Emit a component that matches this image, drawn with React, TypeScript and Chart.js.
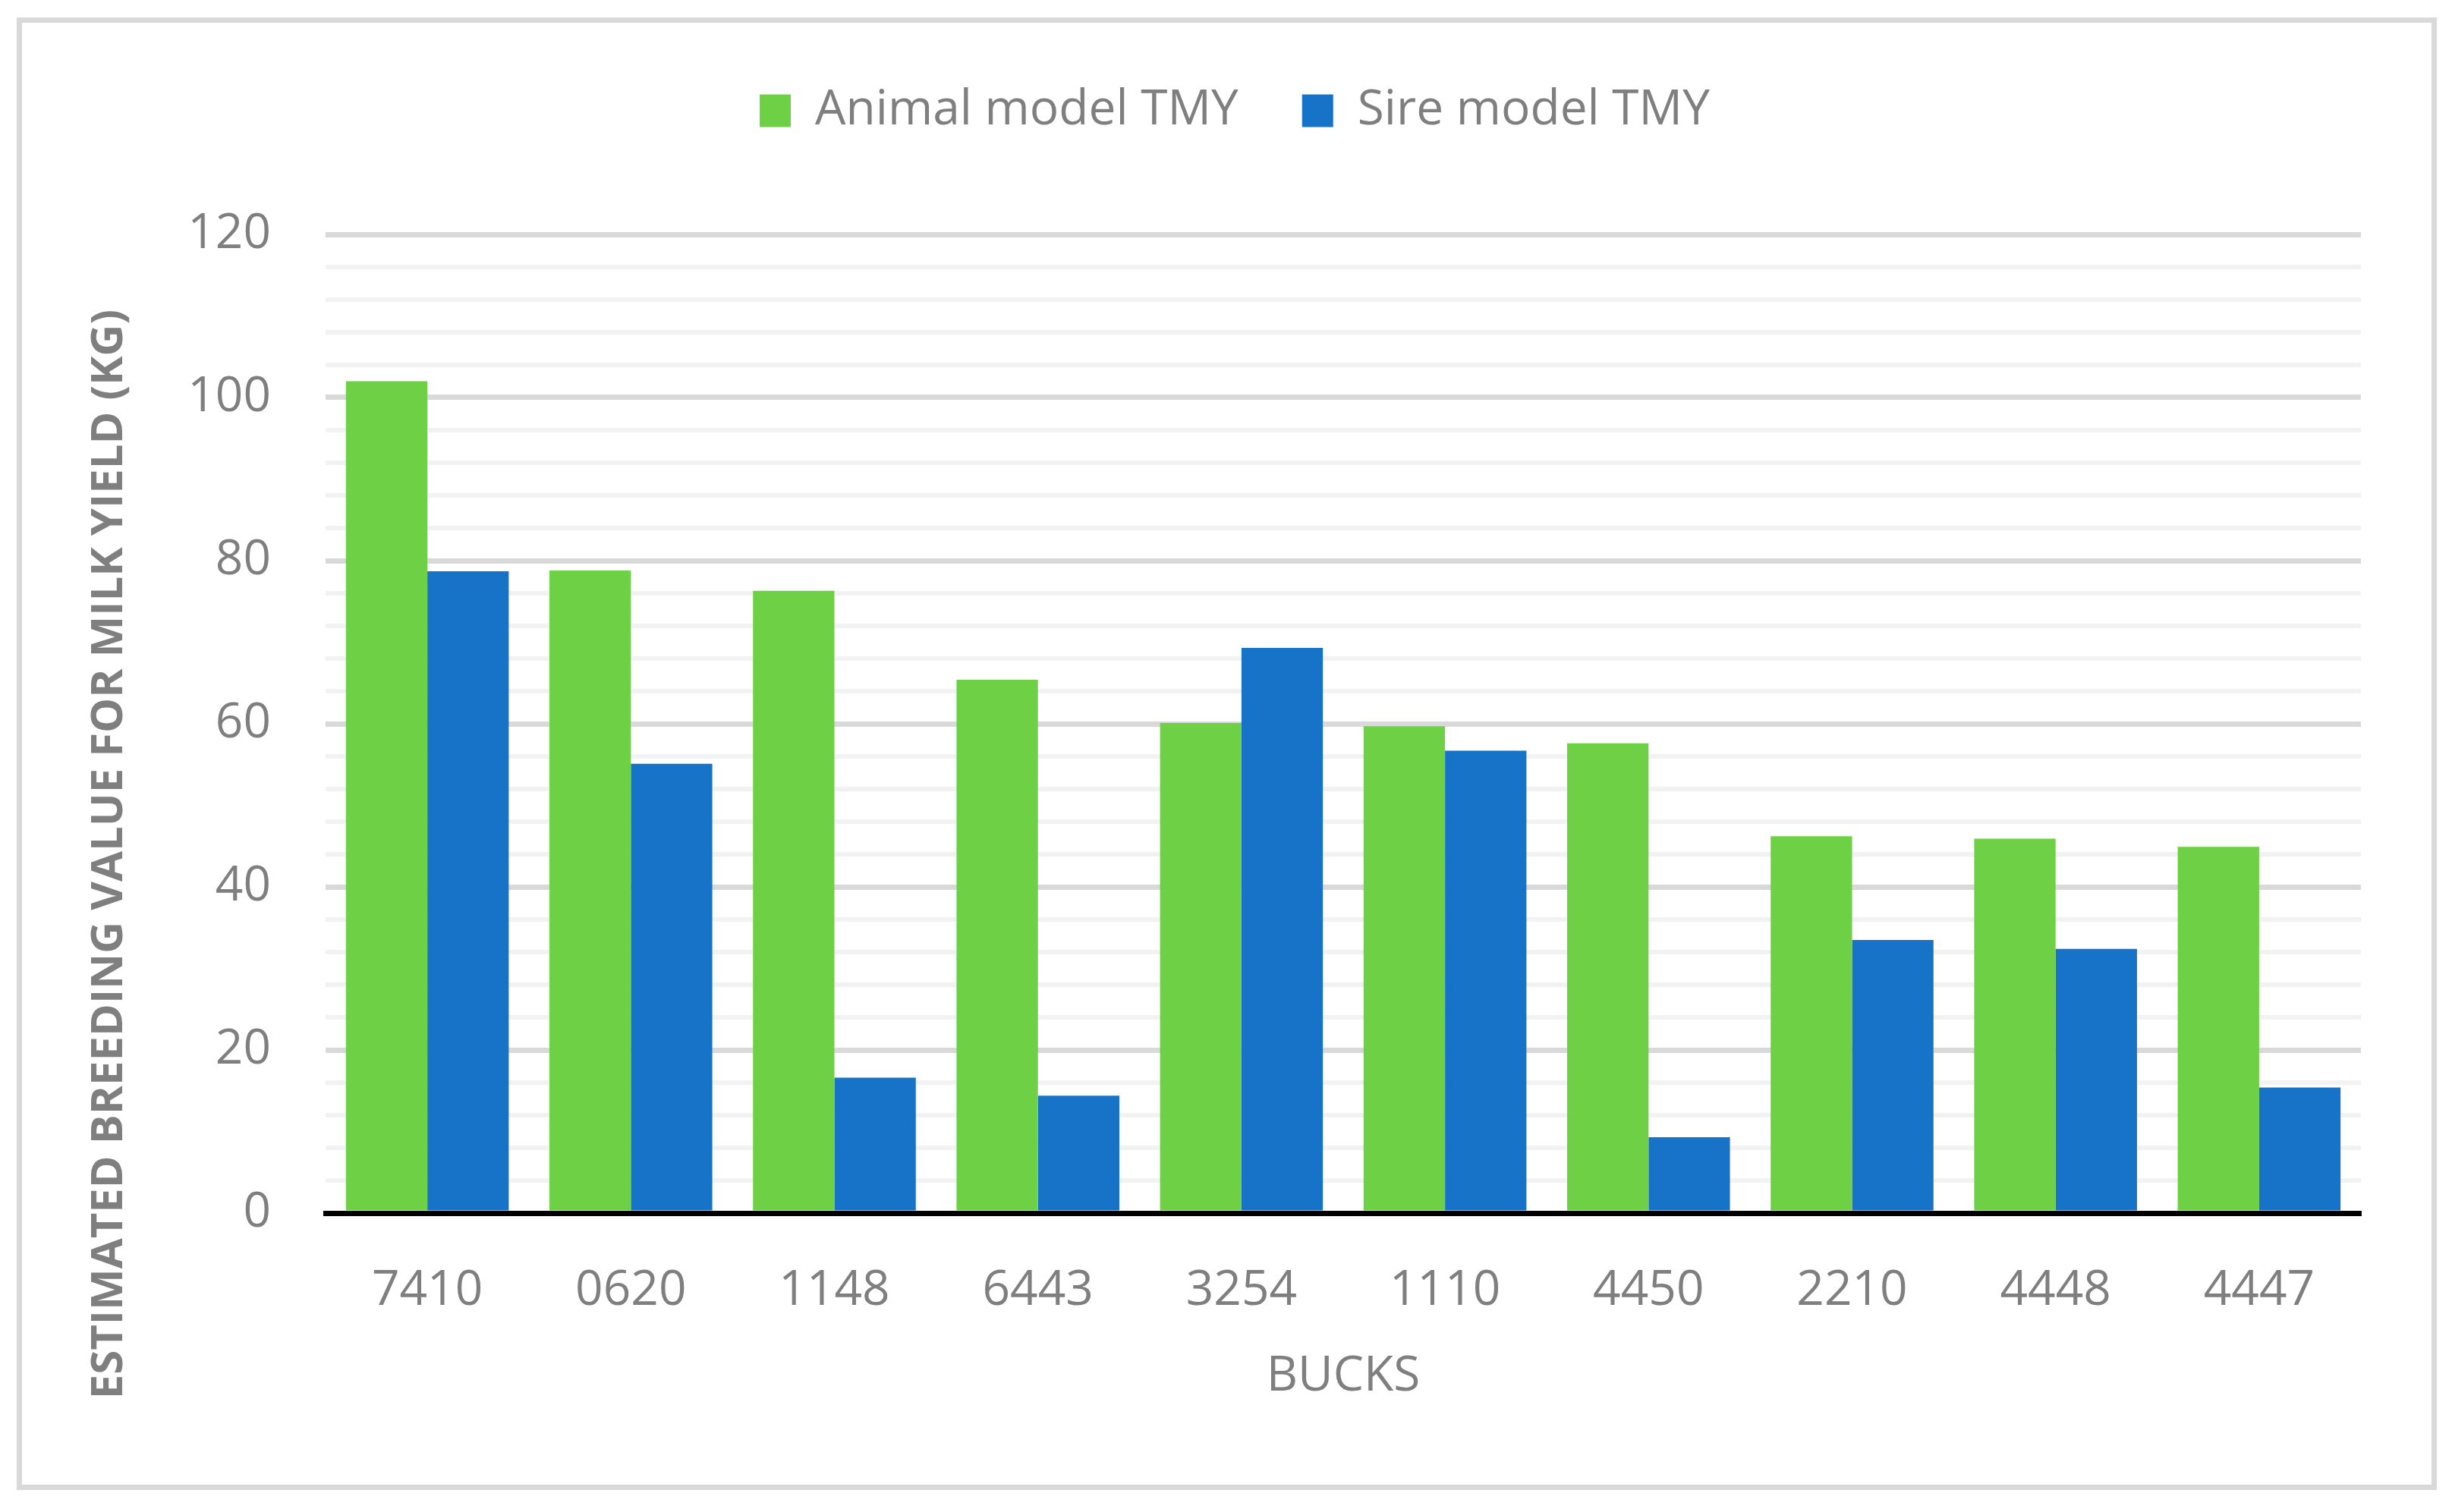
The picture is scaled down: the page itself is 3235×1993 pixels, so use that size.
import { useEffect, useRef } from 'react';
import { Chart, registerables } from 'chart.js';

Chart.register(...registerables);

const FONT = "'Open Sans', 'Noto Sans', sans-serif";
const GREY = '#7f7f7f';

const bucks = ['7410', '0620', '1148', '6443', '3254', '1110', '4450', '2210', '4448', '4447'];
const animalTMY = [102, 78.8, 76.3, 65.4, 60.1, 59.7, 57.6, 46.2, 45.9, 44.9];
const sireTMY = [78.7, 55.1, 16.6, 14.4, 69.3, 56.7, 9.3, 33.5, 32.4, 15.4];
const yTitle = 'ESTIMATED BREEDING VALUE FOR MILK YIELD (KG)';
const xTitle = 'BUCKS';

// extra room under the legend (Excel leaves a big gap there)
const legendGap = {
  id: 'legendGap',
  beforeInit(chart: any) {
    const fit = chart.legend.fit;
    chart.legend.fit = function () {
      fit.call(this);
      this.height += 121;
    };
  },
};

// y title drawn by hand: it is longer than the plot height and the scale title would squash it
const yTitlePlugin = {
  id: 'yTitle',
  afterDraw(chart: any) {
    const { ctx, chartArea } = chart;
    ctx.save();
    ctx.translate(115, (chartArea.top + chartArea.bottom) / 2 + 172);
    ctx.rotate(-Math.PI / 2);
    ctx.font = `bold 58px ${FONT}`;
    ctx.fillStyle = GREY;
    ctx.textAlign = 'center';
    ctx.textBaseline = 'middle';
    ctx.fillText(yTitle, 0, 0);
    ctx.restore();
  },
};

export default function App() {
  const canvasRef = useRef<HTMLCanvasElement>(null);

  useEffect(() => {
    if (!canvasRef.current) return;
    const chart = new Chart(canvasRef.current, {
      type: 'bar',
      data: {
        labels: bucks,
        datasets: [
          { label: 'Animal model TMY', data: animalTMY, backgroundColor: '#6ed044' },
          { label: 'Sire model TMY', data: sireTMY, backgroundColor: '#1773c8' },
        ],
      },
      options: {
        responsive: true,
        maintainAspectRatio: false,
        animation: false,
        layout: { padding: { top: 0, left: 114, right: 93, bottom: 0 } },
        datasets: { bar: { categoryPercentage: 0.8, barPercentage: 1 } },
        plugins: {
          tooltip: { enabled: false },
          legend: {
            position: 'top',
            labels: {
              boxWidth: 41,
              boxHeight: 43,
              padding: 84,
              color: GREY,
              font: { family: FONT, size: 64 },
            },
          },
        },
        scales: {
          x: {
            z: 1,
            grid: { display: false },
            border: { display: true, color: '#000', width: 7 },
            ticks: { color: GREY, padding: 56, font: { family: FONT, size: 64 } },
            title: {
              display: true,
              text: xTitle,
              color: GREY,
              font: { family: FONT, size: 64 },
              padding: { top: 0, bottom: 104 },
            },
            afterFit: (s: any) => { s.height = 358; },
          },
          y: {
            min: 0,
            max: 120,
            border: { display: false },
            grid: {
              drawTicks: false,
              color: (c: any) => (c.tick.value === 0 ? 'rgba(0,0,0,0)' : c.tick.value % 20 === 0 ? '#d9d9d9' : '#f2f2f2'),
              lineWidth: (c: any) => (c.tick.value % 20 === 0 ? 7 : 6),
            },
            ticks: {
              stepSize: 4,
              autoSkip: false,
              padding: 72,
              color: GREY,
              font: { family: FONT, size: 64 },
              callback: (v: any) => (Number(v) % 20 === 0 ? String(v) : ''),
            },
            afterFit: (s: any) => { s.width = 286; },
          },
        },
      },
      plugins: [legendGap, yTitlePlugin],
    });
    return () => { chart.destroy(); };
  }, []);

  return (
    <div style={{ width: 3219, height: 1977, paddingLeft: 14, paddingTop: 15, boxSizing: 'border-box' }}>
      <div style={{ width: 3189, height: 1941, border: '7px solid #d9d9d9', boxSizing: 'border-box', background: '#fff' }}>
        <div style={{ position: 'relative', width: 3175, height: 1927 }}>
          <canvas ref={canvasRef} />
        </div>
      </div>
    </div>
  );
}
